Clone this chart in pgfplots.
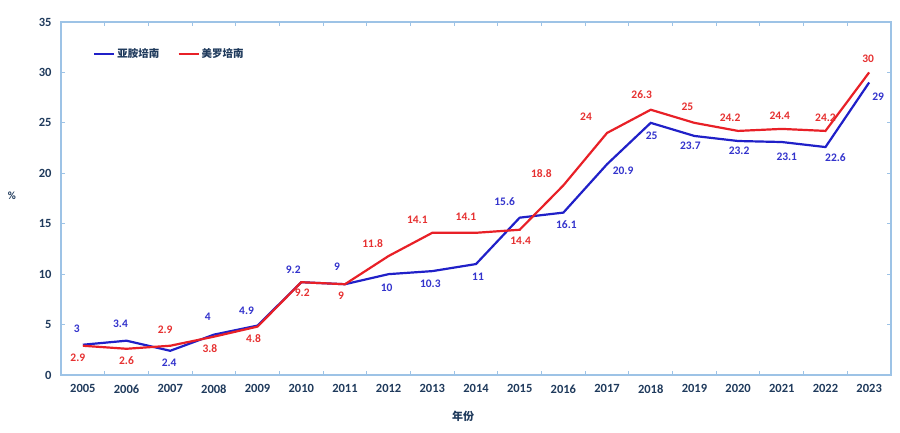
\documentclass[border=0pt]{standalone}
\usepackage{pgfplots}
\pgfplotsset{compat=1.18}
\usepackage{pgfplotstable}
\usepackage{fontspec}
\setmainfont{Carlito}
\newfontfamily\cjk{Noto Sans CJK SC}
\definecolor{axisblue}{HTML}{9DC3E6}
\definecolor{tickc}{HTML}{1F3A5C}
\definecolor{bline}{HTML}{2020C8}
\definecolor{rline}{HTML}{E82027}
\definecolor{btxt}{HTML}{3333CC}
\definecolor{rtxt}{HTML}{E63030}
\pgfplotstableread{
x a adx ady b bdx bdy
0 3 -6 16 2.9 -5 -12
1 3.4 -6 17 2.6 0 -12
2 2.4 -1 -12 2.9 -5 16
3 4 -6 18 3.8 -4 -12
4 4.9 -11 15 4.8 -4 -12
5 9.2 -8 12 9.2 1 -11
6 9 -8 17 9 -4 -12
7 10 -2 -14 11.8 -16 12
8 10.3 -2 -13 14.1 -15 13
9 11 2 -13 14.1 -10 16
10 15.6 -15 16 14.4 1 -11
11 16.1 3 -12 18.8 -22 12
12 20.9 16 -7 24 -21 16
13 25 1 -13 26.3 -9 15
14 23.7 -4 -10 25 -7 16
15 23.2 1 -10 24.2 -8 13
16 23.1 5 -15 24.4 -2 13
17 22.6 10 -11 24.2 0 13
18 29 9 -14 30 -1 14
}\data
\begin{document}
\begin{tikzpicture}
\useasboundingbox (-61pt,-58pt) rectangle (839pt,375pt);
\begin{axis}[
  scale only axis, width=830pt, height=353pt,
  xmin=-0.5, xmax=18.5, ymin=0, ymax=35,
  xtick={-0.5,0.5,...,18.5}, x tick label as interval,
  xticklabels={2005,2006,2007,2008,2009,2010,2011,2012,2013,2014,2015,2016,2017,2018,2019,2020,2021,2022,2023},
  ytick={0,5,...,35},
  tick align=inside, major tick length=4pt,
  axis line style={draw=axisblue, line width=1.5pt},
  every tick/.style={draw=axisblue, line width=1pt},
  ticklabel style={font=\bfseries\fontsize{12.5}{14}\selectfont, text=tickc},
  xticklabel style={yshift=-6pt},
  yticklabel style={xshift=-6pt},
  /pgf/number format/assume math mode=true,
  xlabel={年份}, ylabel={\%},
  xlabel style={at={(axis description cs:0.5,0)}, anchor=center, yshift=-41pt, xshift=-13pt, font=\cjk\bfseries\fontsize{11}{13}\selectfont, text=tickc},
  ylabel style={at={(axis description cs:0,0.507)}, anchor=center, rotate=-90, xshift=-49pt, font=\bfseries\fontsize{11}{13}\selectfont, text=tickc},
  legend columns=2,
  legend style={at={(axis description cs:0.035,0.909)}, anchor=west, draw=none, fill=none,
    font=\cjk\bfseries\fontsize{10.5}{12}\selectfont, text=tickc,
    /tikz/every even column/.append style={column sep=16pt}},
  legend image code/.code={\draw[#1, line width=2.2pt] (0pt,0pt) -- (20pt,0pt);},
  clip=false,
]
\draw[axisblue, line width=1.5pt] (rel axis cs:0,0) rectangle (rel axis cs:1,1);
\addplot[bline, line width=2.2pt, mark=none] table[x=x,y=a]{\data};
\addlegendentry{亚胺培南}
\addplot[rline, line width=2.2pt, mark=none] table[x=x,y=b]{\data};
\addlegendentry{美罗培南}
\addplot[draw=none, mark=none, forget plot, nodes near coords, point meta=y,
  visualization depends on={\thisrow{adx}\as\myDX},
  visualization depends on={\thisrow{ady}\as\myDY},
  every node near coord/.append style={anchor=center, inner sep=0pt, xshift=\myDX pt, yshift=\myDY pt, text=btxt, font=\bfseries\fontsize{11.5}{13}\selectfont}]
  table[x=x,y=a]{\data};
\addplot[draw=none, mark=none, forget plot, nodes near coords, point meta=y,
  visualization depends on={\thisrow{bdx}\as\myDX},
  visualization depends on={\thisrow{bdy}\as\myDY},
  every node near coord/.append style={anchor=center, inner sep=0pt, xshift=\myDX pt, yshift=\myDY pt, text=rtxt, font=\bfseries\fontsize{11.5}{13}\selectfont}]
  table[x=x,y=b]{\data};
\end{axis}
\end{tikzpicture}
\end{document}
